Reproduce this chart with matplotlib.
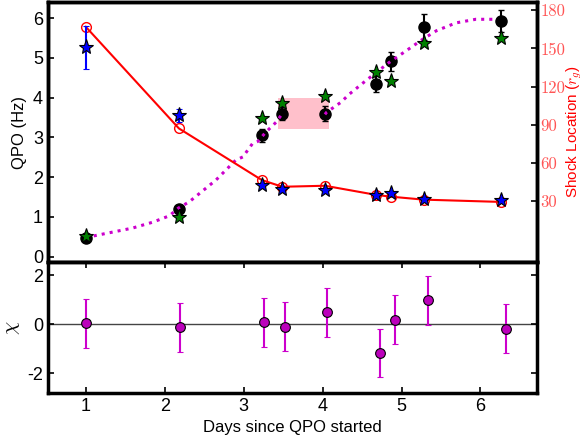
import numpy as np
import matplotlib
matplotlib.use("Agg")
import matplotlib.pyplot as plt
from matplotlib.patches import Rectangle

plt.rcParams['font.family'] = ['Liberation Sans', 'DejaVu Sans']
plt.rcParams['mathtext.fontset'] = 'cm'
plt.rcParams['axes.unicode_minus'] = False

# observed QPO (left axis)
days = [1.0, 2.18, 3.23, 3.49, 4.03, 4.68, 4.87, 5.28, 6.26]
qpo_obs = [0.47, 1.2, 3.05, 3.6, 3.6, 4.34, 4.92, 5.78, 5.93]
qpo_err = [0.05, 0.08, 0.17, 0.17, 0.18, 0.2, 0.24, 0.33, 0.27]
# model QPO (green stars)
qpo_model = [0.52, 1.0, 3.49, 3.86, 4.03, 4.65, 4.42, 5.38, 5.51]

# shock location (right axis)
shock_fit = [151, 97.6, 42.8, 39.6, 38.9, 34.9, 36.7, 31.8, 31.0]
shock_fit_err = [17, 5, 0, 0, 0, 0, 0, 0, 0]
shock_model = [167, 87.2, 46.7, 41.4, 42.2, 35.0, 33.6, 31.3, 29.5]

# dotted trend curve (two pieces, broken behind the shaded box)
curve_x1 = [1.0, 1.09, 1.34, 1.59, 1.85, 2.06, 2.17, 2.31, 2.65, 2.9, 2.99, 3.11,
            3.18, 3.28, 3.41, 3.49]
curve_y1 = [0.49, 0.52, 0.62, 0.72, 0.87, 1.03, 1.22, 1.38, 1.93, 2.43, 2.51, 2.84,
            2.9, 3.13, 3.38, 3.6]
curve_x2 = [4.03, 4.05, 4.23, 4.34, 4.55, 4.84, 5.06, 5.27, 5.44, 5.69, 5.94, 6.19]
curve_y2 = [3.58, 3.63, 3.88, 4.09, 4.43, 4.88, 5.18, 5.47, 5.68, 5.88, 5.97, 5.97]

# residuals
chi_days = [1.0, 2.19, 3.26, 3.53, 4.06, 4.73, 4.92, 5.33, 6.32]
chi = [0.04, -0.12, 0.08, -0.1, 0.49, -1.17, 0.18, 0.99, -0.18]
chi_err = [1, 1, 1, 1, 1, 1, 1, 1, 1]

fig = plt.figure(figsize=(5.84, 4.38), dpi=100)
ax1 = fig.add_axes([0.082, 0.402, 0.838, 0.593])
ax3 = fig.add_axes([0.082, 0.103, 0.838, 0.299], sharex=ax1)
ax2 = ax1.twinx()

# top panel, QPO
ax1.add_patch(Rectangle((3.44, 3.22), 0.64, 0.78, facecolor='pink', edgecolor='none', zorder=2))
ax1.errorbar(days, qpo_obs, yerr=qpo_err, fmt='o', color='black', ms=8,
             ecolor='black', elinewidth=1.5, capsize=2.5, zorder=3)
ax1.plot(curve_x1, curve_y1, ':', color='#cc00cc', lw=2.2, zorder=4)
ax1.plot(curve_x2, curve_y2, ':', color='#cc00cc', lw=2.2, zorder=4)
ax1.plot(days, qpo_model, '*', color='green', mec='black', mew=0.8, ms=11, zorder=5)
ax1.set_xlim(0.52, 6.72)
ax1.set_ylim(-0.13, 6.4)
ax1.set_yticks(range(0, 7))
ax1.set_ylabel('QPO (Hz)', fontsize=12)
ax1.tick_params(axis='y', direction='in', labelsize=13, length=4, width=1.2)
ax1.tick_params(axis='x', bottom=False, labelbottom=False)

# shock location on right axis
ax2.plot(days, shock_model, '-', color='red', lw=1.5, zorder=2)
ax2.plot(days, shock_model, 'o', mfc='none', mec='red', ms=7, mew=1, zorder=2)
ax2.errorbar(days, shock_fit, yerr=shock_fit_err, fmt='*', color='blue', mec='black',
             mew=0.8, ms=11, ecolor='blue', elinewidth=1.5, capsize=2.5, zorder=3)
ax2.set_ylim(-17.6, 186.3)
ax2.set_yticks([30, 60, 90, 120, 150, 180])
ax2.tick_params(axis='y', direction='in', labelsize=12, length=4, width=1.2,
                pad=2, labelcolor='#ff5555')
for lab in ax2.get_yticklabels():
    lab.set_fontfamily('cmr10')
ax2.set_ylabel('Shock Location ($r_g$)', color='red', fontsize=11, labelpad=0)

# residuals
ax3.axhline(0, color='#444444', lw=1, zorder=1)
ax3.errorbar(chi_days, chi, yerr=chi_err, fmt='o', color='#bb00bb', mec='black',
             mew=0.8, ms=7, ecolor='#cc00cc', elinewidth=1.5, capsize=2.5, zorder=3)
ax3.set_ylim(-2.8, 2.55)
ax3.set_yticks([-2, 0, 2])
ax3.set_xticks(range(1, 7))
ax3.set_ylabel(r'$\chi$', fontsize=15)
ax3.set_xlabel('Days since QPO started', fontsize=12)
ax3.tick_params(direction='in', labelsize=13, length=4, width=1.2,
                top=True, right=True)

for ax in (ax1, ax2, ax3):
    for sp in ax.spines.values():
        sp.set_linewidth(2.5)

fig.savefig('out.png', dpi=100)
